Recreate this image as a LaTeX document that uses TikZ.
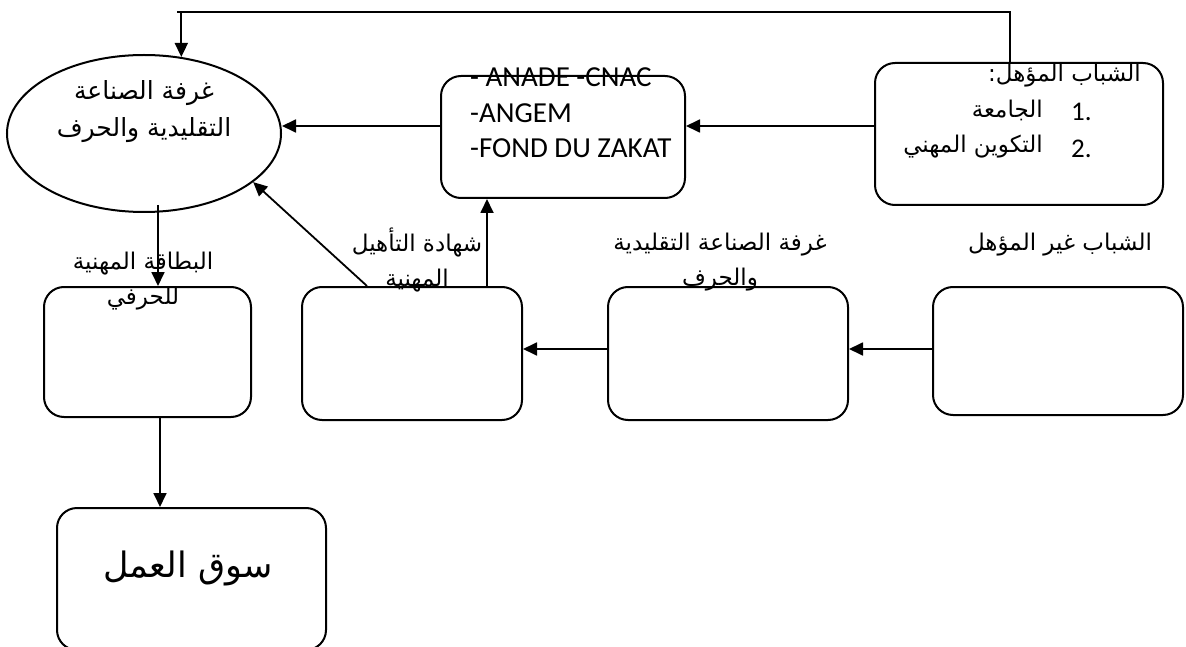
\documentclass[tikz,border=0pt]{standalone}
\usepackage{fontspec}
\setmainfont{Carlito}
\newfontfamily\arabicfont[Script=Arabic]{DejaVu Sans}
\TeXXeTstate=1
\usetikzlibrary{arrows.meta,shapes.geometric}
\begin{document}
\begin{tikzpicture}[x=1pt,y=-1pt,
  box/.style={draw,line width=2pt,rounded corners=20pt,inner sep=0pt},
  arr/.style={-{Triangle[length=14pt,width=13pt]},line width=1.8pt},
  ar/.style={font=\arabicfont\fontsize{23}{35}\selectfont,align=center,inner sep=0pt},
  lat/.style={font=\fontsize{29}{34}\selectfont,inner sep=0pt,anchor=west},
]
\useasboundingbox (0,0) rectangle (1186,647);

% boxes
\node[draw,line width=2pt,ellipse,minimum width=274pt,minimum height=157pt,inner sep=0pt] (chamber) at (144,133.5) {};
\node[box,minimum width=244pt,minimum height=122pt] (fund) at (563,137) {};
\node[box,minimum width=288pt,minimum height=142pt] (qual) at (1019,134) {};
\node[box,minimum width=207pt,minimum height=130pt] (A) at (147.5,352) {};
\node[box,minimum width=220pt,minimum height=133pt] (B) at (412,353.5) {};
\node[box,minimum width=240pt,minimum height=133pt] (C) at (728,353.5) {};
\node[box,minimum width=250pt,minimum height=128pt] (D) at (1058,351) {};
\node[box,minimum width=269pt,minimum height=142pt] (M) at (191.5,579) {};

% texts
\node[ar,font=\arabicfont\fontsize{25}{37}\selectfont] (tch) at (144,112) {\beginR غرفة الصناعة\endR\\\beginR التقليدية والحرف\endR};
\node[lat] (t1) at (470,77) {- ANADE -CNAC};
\node[lat] (t2) at (470,113) {-ANGEM};
\node[lat] (t3) at (470,148) {-FOND DU ZAKAT};
\node[ar,anchor=east] (q0) at (1141,76) {\beginR الشباب المؤهل:\endR};
\node[lat,font=\fontsize{27}{30}\selectfont] (n1) at (1071,112) {1.};
\node[ar,anchor=east] (q1) at (1043,110) {\beginR الجامعة\endR};
\node[lat,font=\fontsize{27}{30}\selectfont] (n2) at (1071,149) {2.};
\node[ar,anchor=east] (q2) at (1043,147) {\beginR التكوين المهني\endR};
\node[ar] (tcert) at (417,260) {\beginR شهادة التأهيل\endR\\\beginR المهنية\endR};
\node[ar] (tcham2) at (720,262) {\beginR غرفة الصناعة التقليدية\endR\\\beginR والحرف\endR};
\node[ar] (tyouth) at (1060,245) {\beginR الشباب غير المؤهل\endR};
\node[ar] (tcard) at (143,281) {\beginR البطاقة المهنية\endR\\\beginR للحرفي\endR};
\node[ar,font=\arabicfont\fontsize{35}{40}\selectfont] (tmarket) at (188,568) {\beginR سوق العمل\endR};

% helper coordinates
\coordinate (top) at (0,12);
\coordinate (ya) at (0,126);
\coordinate (tl0) at (177,12);
\coordinate (tr) at (1010,12);
\coordinate (tl) at (chamber.64 |- top);
\coordinate (xb) at (487,0);
\coordinate (xd) at (367,0);
\coordinate (cs) at (158,205);
\coordinate (xm) at (160,0);
\coordinate (yr) at (0,349);

% connectors
\draw[line width=1.2pt] (tr |- qual.north) -- (tr) -- (tl0);
\draw[arr] (tl) -- (chamber.64);
\draw[arr] (qual.west |- ya) -- (fund.east |- ya);
\draw[arr] (fund.west |- ya) -- (chamber.east |- ya);
\draw[arr] (D.west |- yr) -- (C.east |- yr);
\draw[arr] (C.west |- yr) -- (B.east |- yr);
\draw[arr] (B.north -| xb) -- (fund.south -| xb);
\draw[arr] (B.north -| xd) -- (chamber.-24);
\draw[arr] (cs) -- (cs |- A.north);
\draw[arr] (A.south -| xm) -- (M.north -| xm);
\end{tikzpicture}
\end{document}
